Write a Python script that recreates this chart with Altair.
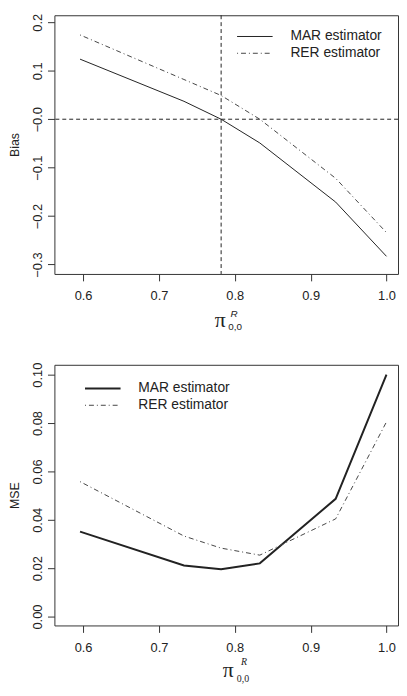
import altair as alt
import pandas as pd

# ---- data ----
x_vals = [0.596, 0.733, 0.782, 0.833, 0.933, 1.0]
mar_bias = [0.124, 0.037, 0.0, -0.049, -0.171, -0.283]
rer_bias = [0.174, 0.082, 0.049, 0.0, -0.122, -0.234]
mar_mse = [0.0351, 0.0211, 0.0196, 0.0220, 0.0487, 0.1000]
rer_mse = [0.0558, 0.0333, 0.0283, 0.0254, 0.0404, 0.0805]
x_ticks = [0.6, 0.7, 0.8, 0.9, 1.0]
bias_ticks = [-0.3, -0.2, -0.1, 0.0, 0.1, 0.2]
mse_ticks = [0.00, 0.02, 0.04, 0.06, 0.08, 0.10]
ref_x = [0.782]
ref_y = [0.0]
legend_labels = ["MAR estimator", "RER estimator"]
series_names = ["MAR", "RER"]

INK = "#333333"
SANS = "Liberation Sans"
SERIF = "Liberation Serif"
DOTDASH = [1, 3, 5, 3]

x_domain = [0.5622, 1.0152]
W = 348


def long_df(mar, rer):
    rows = []
    for name, vals in zip(series_names, [mar, rer]):
        for xv, yv in zip(x_vals, vals):
            rows.append({"x": xv, "y": yv, "series": name})
    return pd.DataFrame(rows)


def make_panel(mar, rer, y_domain, y_ticks, y_title, label_expr, mar_width,
               leg, pi_pos, w, h, sub_font):
    df = long_df(mar, rer)
    xs = alt.Scale(domain=x_domain, nice=False, zero=False)
    ys = alt.Scale(domain=y_domain, nice=False, zero=False)
    xaxis = alt.Axis(values=x_ticks, format=".1f", title=None, grid=False,
                     domain=False, tickSize=7, tickColor=INK, labelColor="#222",
                     labelFont=SANS, labelFontSize=13, labelPadding=9,
                     labelFlush=False, labelOverlap=False)
    yaxis = alt.Axis(values=y_ticks, labelExpr=label_expr, title=y_title,
                     grid=False, domain=False, tickSize=7, tickColor=INK,
                     labelColor="#222", labelFont=SANS, labelFontSize=13,
                     labelAngle=270, labelAlign="center", labelBaseline="bottom",
                     labelPadding=3, labelFlush=False, labelOverlap=False,
                     titleFont=SANS, titleFontSize=12.5, titleFontWeight="normal",
                     titleColor="#222", titlePadding=10)
    X = alt.X("x:Q", scale=xs, axis=xaxis)
    Y = alt.Y("y:Q", scale=ys, axis=yaxis)

    mar_line = alt.Chart(df).transform_filter(alt.datum.series == "MAR").mark_line(
        color="#222", strokeWidth=mar_width).encode(x=X, y=Y)
    rer_line = alt.Chart(df).transform_filter(alt.datum.series == "RER").mark_line(
        color="#444", strokeWidth=1, strokeDash=DOTDASH).encode(x=X, y=Y)

    layers = [mar_line, rer_line]

    # legend (manual)
    (lx0, lx1, tx, y1, y2) = leg
    layers.append(alt.Chart(pd.DataFrame({"k": [0]})).mark_rule(
        color="#222", strokeWidth=mar_width).encode(
        x=alt.value(lx0), x2=alt.value(lx1), y=alt.value(y1)))
    layers.append(alt.Chart(pd.DataFrame({"k": [0]})).mark_rule(
        color="#444", strokeWidth=1, strokeDash=DOTDASH).encode(
        x=alt.value(lx0), x2=alt.value(lx1), y=alt.value(y2)))
    for lab, yy in zip(legend_labels, [y1, y2]):
        layers.append(alt.Chart(pd.DataFrame({"k": [0]})).mark_text(
            align="left", baseline="middle", font=SANS, fontSize=14,
            color="#222").encode(x=alt.value(tx), y=alt.value(yy),
                                 text=alt.value(lab)))

    # axis title pi^R_{0,0}
    (px, py, rx, ry, sx, sy) = pi_pos
    layers.append(alt.Chart(pd.DataFrame({"k": [0]})).mark_text(
        align="center", baseline="middle", font=SERIF, fontSize=22,
        color="#222").encode(x=alt.value(px), y=alt.value(py),
                             text=alt.value("π")))
    layers.append(alt.Chart(pd.DataFrame({"k": [0]})).mark_text(
        align="center", baseline="middle", font=sub_font, fontSize=10,
        fontStyle="italic", color="#222").encode(
        x=alt.value(rx), y=alt.value(ry), text=alt.value("R")))
    layers.append(alt.Chart(pd.DataFrame({"k": [0]})).mark_text(
        align="center", baseline="middle", font=sub_font, fontSize=10,
        color="#222").encode(x=alt.value(sx), y=alt.value(sy),
                             text=alt.value("0,0")))
    return alt.layer(*layers).properties(width=w, height=h)


top = make_panel(
    mar_bias, rer_bias, [-0.3194, 0.2146], bias_ticks, "Bias",
    "abs(datum.value) < 1e-9 ? '−0.0' : format(datum.value, '.1f')",
    1, (185, 221, 239, 21.5, 38.5), (168, 309, 182, 303, 183, 316),
    W, 262, SANS)

# vertical and horizontal dashed reference lines in the top panel
xs_r = alt.Scale(domain=x_domain, nice=False, zero=False)
vrule = alt.Chart(pd.DataFrame({"x": ref_x})).mark_rule(
    color="#222", strokeWidth=1, strokeDash=[4, 3]).encode(
    x=alt.X("x:Q", scale=xs_r))
hrule = alt.Chart(pd.DataFrame({"y": ref_y})).mark_rule(
    color="#222", strokeWidth=1, strokeDash=[4, 3]).encode(
    y=alt.Y("y:Q", scale=alt.Scale(domain=[-0.3194, 0.2146], nice=False, zero=False)))
top = alt.layer(vrule, hrule, top).properties(width=W, height=262)

bottom = make_panel(
    mar_mse, rer_mse, [-0.00367, 0.1041], mse_ticks, "MSE",
    "format(datum.value, '.2f')",
    2, (31, 67, 85, 24, 41), (176, 309, 192, 301, 191, 318),
    W, 264, SERIF)

chart = alt.vconcat(top, bottom, spacing=92, bounds="flush").properties(
    padding={"left": 0, "top": 0, "right": 0, "bottom": 0}
).configure_view(stroke=INK, strokeWidth=1)

chart.save("out.html", embed_options={"renderer": "svg", "actions": False})
